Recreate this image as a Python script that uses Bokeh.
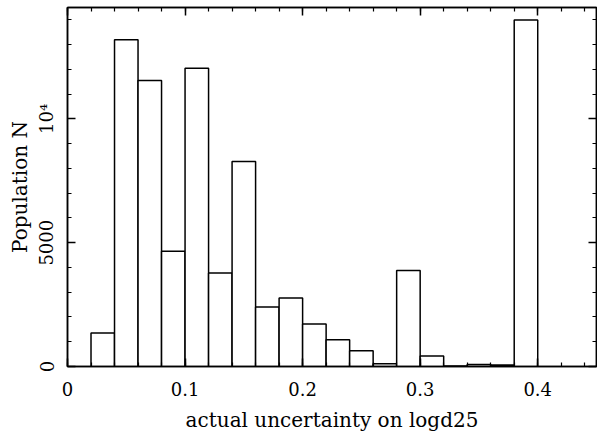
from bokeh.plotting import figure
from bokeh.models import LinearAxis, FixedTicker, Range1d
from bokeh.embed import file_html
from bokeh.resources import INLINE

# ---- data ----
bin_edges = [0.02, 0.04, 0.06, 0.08, 0.10, 0.12, 0.14, 0.16, 0.18, 0.20,
             0.22, 0.24, 0.26, 0.28, 0.30, 0.32, 0.34, 0.36, 0.38, 0.40]
counts = [1350, 13200, 11550, 4650, 12050, 3780, 8280, 2400, 2770, 1720,
          1080, 640, 110, 3880, 420, 20, 80, 60, 14000]
x_major_ticks = [0, 0.1, 0.2, 0.3, 0.4]
x_tick_labels = ["0", "0.1", "0.2", "0.3", "0.4"]
x_minor_ticks = [0.00, 0.02, 0.04, 0.06, 0.08, 0.10, 0.12, 0.14, 0.16, 0.18, 0.20, 0.22,
                 0.24, 0.26, 0.28, 0.30, 0.32, 0.34, 0.36, 0.38, 0.40, 0.42, 0.44]
y_major_ticks = [0, 5000, 10000]
y_tick_labels = ["0", "5000", "10\u2074"]
y_minor_ticks = [0, 1000, 2000, 3000, 4000, 5000, 6000, 7000, 8000, 9000,
                 10000, 11000, 12000, 13000, 14000]
x_label = "actual uncertainty on logd25"
y_label = "Population N"

FONT = "DejaVu Serif"

p = figure(width=597, height=441, output_backend="svg", toolbar_location=None,
           x_range=Range1d(0, 0.45), y_range=Range1d(0, 14500),
           min_border_left=67, min_border_right=1, min_border_top=7, min_border_bottom=75,
           x_axis_location="below", y_axis_location="left")
p.grid.visible = False
p.outline_line_color = "black"
p.outline_line_width = 1.5
p.background_fill_color = "white"
p.border_fill_color = "white"

p.quad(left=bin_edges[:-1], right=bin_edges[1:], top=counts, bottom=0,
       fill_color="white", line_color="black", line_width=1.5)

def style_axis(ax, ticks, minor, labels, show_labels):
    ax.ticker = FixedTicker(ticks=ticks, minor_ticks=minor)
    ax.major_tick_in = 8
    ax.major_tick_out = 0
    ax.minor_tick_in = 4
    ax.minor_tick_out = 0
    ax.axis_line_color = "black"
    ax.axis_line_width = 1.5
    ax.major_tick_line_width = 1.5
    ax.minor_tick_line_width = 1.2
    ax.major_label_text_font = FONT
    ax.axis_label_text_font = FONT
    ax.axis_label_text_font_style = "normal"
    ax.major_label_text_color = "black"
    ax.axis_label_text_color = "black"
    ax.major_label_text_font_size = "18px"
    ax.axis_label_text_font_size = "20px"
    if show_labels:
        ax.major_label_overrides = {t: l for t, l in zip(ticks, labels)}
    else:
        ax.major_label_overrides = {t: "" for t in ticks}
        ax.major_label_standoff = 0
        ax.axis_label = None

xa = p.xaxis[0]
style_axis(xa, x_major_ticks, x_minor_ticks, x_tick_labels, True)
xa.axis_label = x_label
xa.major_label_standoff = 15
xa.axis_label_standoff = 9

ya = p.yaxis[0]
style_axis(ya, y_major_ticks, y_minor_ticks, y_tick_labels, True)
ya.axis_label = y_label
ya.major_label_orientation = "vertical"
ya.major_label_standoff = 10
ya.axis_label_standoff = 2

top_ax = LinearAxis()
style_axis(top_ax, x_major_ticks, x_minor_ticks, x_tick_labels, False)
p.add_layout(top_ax, "above")

right_ax = LinearAxis()
style_axis(right_ax, y_major_ticks, y_minor_ticks, y_tick_labels, False)
p.add_layout(right_ax, "right")

open("out.html", "w").write(file_html(p, INLINE))
